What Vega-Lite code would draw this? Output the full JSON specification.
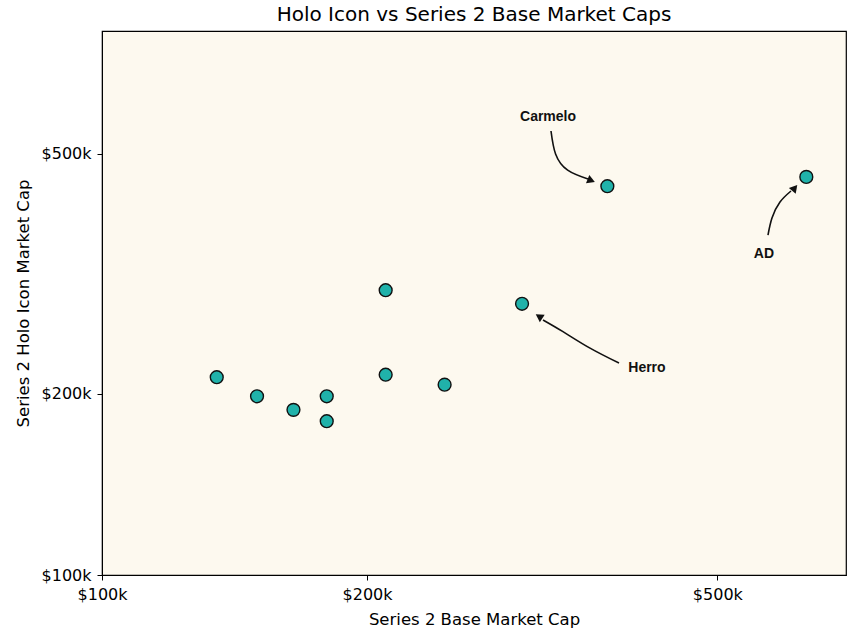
{
  "$schema": "https://vega.github.io/schema/vega-lite/v6.json",
  "width": 744,
  "height": 544,
  "autosize": "none",
  "padding": {"left": 102, "top": 31, "right": 17, "bottom": 64},
  "background": "white",
  "title": {"text": "Holo Icon vs Series 2 Base Market Caps", "font": "DejaVu Sans", "fontSize": 20, "fontWeight": "normal", "color": "black", "offset": 6},
  "config": {
    "view": {"stroke": "black", "strokeWidth": 1.2, "fill": "#fdf9ef"},
    "axis": {"grid": false, "domainColor": "black", "tickColor": "black", "tickSize": 5, "labelFont": "DejaVu Sans", "labelFontSize": 16, "labelColor": "black", "labelFlush": false, "labelPadding": 6, "titleFont": "DejaVu Sans", "titleFontSize": 16.5, "titleFontWeight": "normal", "titleColor": "black"}
  },
  "datasets": {
    "cards": [
      {"player": "A", "base": 135000, "holo": 213000},
      {"player": "B", "base": 150000, "holo": 198000},
      {"player": "C", "base": 165000, "holo": 188000},
      {"player": "D", "base": 180000, "holo": 198000},
      {"player": "E", "base": 180000, "holo": 180000},
      {"player": "F", "base": 210000, "holo": 297000},
      {"player": "G", "base": 210000, "holo": 215000},
      {"player": "H", "base": 245000, "holo": 207000},
      {"player": "Herro", "base": 300000, "holo": 282000},
      {"player": "Carmelo", "base": 375000, "holo": 442000},
      {"player": "AD", "base": 631000, "holo": 458000}
    ],
    "arrows": [
      {"name": "Carmelo", "o": 1, "x": 323600, "y": 545900},
      {"name": "Carmelo", "o": 2, "x": 327500, "y": 500000},
      {"name": "Carmelo", "o": 3, "x": 338000, "y": 470000},
      {"name": "Carmelo", "o": 4, "x": 356500, "y": 454300},
      {"name": "AD", "o": 1, "x": 570800, "y": 366700},
      {"name": "AD", "o": 2, "x": 576800, "y": 391400},
      {"name": "AD", "o": 3, "x": 589000, "y": 416100},
      {"name": "AD", "o": 4, "x": 606200, "y": 434000},
      {"name": "Herro", "o": 1, "x": 386600, "y": 224800},
      {"name": "Herro", "o": 2, "x": 358400, "y": 238000},
      {"name": "Herro", "o": 3, "x": 333900, "y": 253500},
      {"name": "Herro", "o": 4, "x": 316900, "y": 265100}
    ],
    "heads": [
      {"name": "Carmelo", "x": 358400, "y": 452500},
      {"name": "AD", "x": 610900, "y": 437300},
      {"name": "Herro", "x": 314500, "y": 268100}
    ],
    "labels": [
      {"name": "Carmelo", "x": 321100, "y": 575900},
      {"name": "AD", "x": 564800, "y": 341200},
      {"name": "Herro", "x": 415900, "y": 220600}
    ]
  },
  "layer": [
    {
      "data": {"name": "arrows"},
      "mark": {"type": "line", "interpolate": "natural", "color": "#111111", "strokeWidth": 1.6},
      "encoding": {
        "x": {"field": "x", "type": "quantitative", "scale": {"type": "log", "domain": [100000, 700000], "nice": false}, "axis": {"values": [100000, 200000, 500000], "labelExpr": "'$' + format(datum.value/1000, 'd') + 'k'", "title": "Series 2 Base Market Cap", "titlePadding": 9}},
        "y": {"field": "y", "type": "quantitative", "scale": {"type": "log", "domain": [100000, 800000], "nice": false}, "axis": {"values": [100000, 200000, 500000], "labelExpr": "'$' + format(datum.value/1000, 'd') + 'k'", "title": "Series 2 Holo Icon Market Cap", "titlePadding": 10}},
        "detail": {"field": "name"},
        "order": {"field": "o"}
      }
    },
    {
      "data": {"name": "heads"},
      "transform": [{"filter": "datum.name == 'Carmelo'"}],
      "mark": {"type": "point", "shape": "triangle", "filled": true, "color": "#111111", "size": 80, "angle": 112, "opacity": 1},
      "encoding": {"x": {"field": "x", "type": "quantitative"}, "y": {"field": "y", "type": "quantitative"}}
    },
    {
      "data": {"name": "heads"},
      "transform": [{"filter": "datum.name == 'AD'"}],
      "mark": {"type": "point", "shape": "triangle", "filled": true, "color": "#111111", "size": 80, "angle": 40, "opacity": 1},
      "encoding": {"x": {"field": "x", "type": "quantitative"}, "y": {"field": "y", "type": "quantitative"}}
    },
    {
      "data": {"name": "heads"},
      "transform": [{"filter": "datum.name == 'Herro'"}],
      "mark": {"type": "point", "shape": "triangle", "filled": true, "color": "#111111", "size": 80, "angle": 303, "opacity": 1},
      "encoding": {"x": {"field": "x", "type": "quantitative"}, "y": {"field": "y", "type": "quantitative"}}
    },
    {
      "data": {"name": "labels"},
      "mark": {"type": "text", "font": "Liberation Sans", "fontSize": 14, "fontWeight": "bold", "color": "#111111", "align": "center", "baseline": "middle"},
      "encoding": {"x": {"field": "x", "type": "quantitative"}, "y": {"field": "y", "type": "quantitative"}, "text": {"field": "name"}}
    },
    {
      "data": {"name": "cards"},
      "mark": {"type": "point", "shape": "circle", "filled": true, "fill": "#20b2aa", "stroke": "#111111", "strokeWidth": 1.4, "size": 165, "opacity": 1},
      "encoding": {"x": {"field": "base", "type": "quantitative"}, "y": {"field": "holo", "type": "quantitative"}}
    }
  ]
}
